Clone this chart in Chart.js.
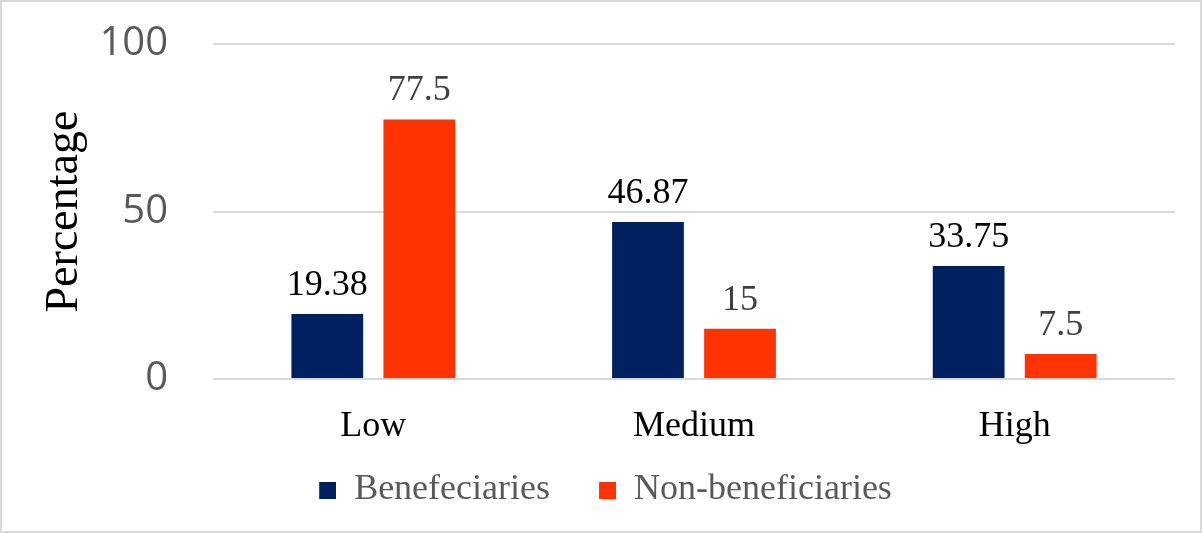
<!DOCTYPE html>
<html>
<head>
<meta charset="utf-8">
<script src="https://cdn.jsdelivr.net/npm/chart.js@4.4.0/dist/chart.umd.min.js"></script>
<style>
  html, body { margin: 0; padding: 0; background: #fff; }
  #wrap { width: 1202px; height: 533px; }
</style>
</head>
<body>
<div id="wrap"><canvas id="myChart" width="1202" height="533"></canvas></div>
<script>
  //data
  var categories = ["Low", "Medium", "High"];
  var beneficiaries = [19.38, 46.87, 33.75];
  var nonBeneficiaries = [77.5, 15, 7.5];
  var yTicks = [0, 50, 100];

  var serif = "'Liberation Serif', 'Times New Roman', serif";
  var sans = "'Open Sans', 'Noto Sans', sans-serif";

  //legend swatch: blank space on the left so the items sit further apart
  function swatch(color) {
    var c = document.createElement('canvas');
    c.width = 43;
    c.height = 17;
    var g = c.getContext('2d');
    g.fillStyle = color;
    g.fillRect(26, 0, 17, 17);
    return c;
  }

  //draws the value above each bar
  var valueLabels = {
    id: 'valueLabels',
    afterDatasetsDraw: function (chart) {
      var ctx = chart.ctx;
      var colors = ["#000000", "#404040"];
      ctx.save();
      ctx.font = "36px " + serif;
      ctx.textAlign = "center";
      ctx.textBaseline = "alphabetic";
      chart.data.datasets.forEach(function (ds, i) {
        chart.getDatasetMeta(i).data.forEach(function (bar, j) {
          ctx.fillStyle = colors[i];
          ctx.fillText(String(ds.data[j]), bar.x, bar.y - 19);
        });
      });
      ctx.restore();
    }
  };

  //light grey frame round the whole picture
  var frame = {
    id: 'frame',
    afterDraw: function (chart) {
      var ctx = chart.ctx;
      ctx.save();
      ctx.strokeStyle = "#d9d9d9";
      ctx.lineWidth = 2;
      ctx.strokeRect(1, 1, chart.width - 2, chart.height - 2);
      ctx.restore();
    }
  };

  var ctx = document.getElementById("myChart");

  var myChart = new Chart(ctx, {
    type: 'bar',
    data: {
      labels: categories,
      datasets: [
        {
          label: "Benefeciaries",
          data: beneficiaries,
          backgroundColor: "#002060",
          pointStyle: swatch("#002060"),
          categoryPercentage: 0.574,
          barPercentage: 0.78
        },
        {
          label: "Non-beneficiaries",
          data: nonBeneficiaries,
          backgroundColor: "#FF3300",
          pointStyle: swatch("#FF3300"),
          categoryPercentage: 0.574,
          barPercentage: 0.78
        }
      ]
    },
    options: {
      responsive: false,
      animation: false,
      layout: {
        padding: { left: 10, right: 27, top: 44, bottom: 15 }
      },
      plugins: {
        legend: {
          position: 'bottom',
          labels: {
            color: "#595959",
            font: { family: serif, size: 36 },
            usePointStyle: true,
            pointStyleWidth: 43,
            boxHeight: 17,
            padding: 23
          }
        },
        tooltip: { enabled: false }
      },
      scales: {
        x: {
          grid: { display: false },
          border: { display: false },
          ticks: {
            color: "#000000",
            font: { family: serif, size: 36 },
            padding: 18
          },
          afterFit: function (scale) { scale.height = 70; }
        },
        y: {
          min: 0,
          max: 100,
          afterBuildTicks: function (scale) {
            scale.ticks = yTicks.map(function (v) { return { value: v }; });
          },
          grid: { color: "#d9d9d9", lineWidth: 2, drawTicks: false },
          border: { display: false },
          ticks: {
            color: "#595959",
            font: { family: sans, size: 40 },
            padding: 45
          },
          title: {
            display: true,
            text: "Percentage",
            color: "#000000",
            font: { family: serif, size: 46 },
            padding: { top: 27, bottom: 0 }
          },
          afterFit: function (scale) {
            scale.width = 203;
            scale.paddingTop = 0;
            scale.paddingBottom = 0;
          }
        }
      }
    },
    plugins: [valueLabels, frame]
  });
</script>
</body>
</html>
